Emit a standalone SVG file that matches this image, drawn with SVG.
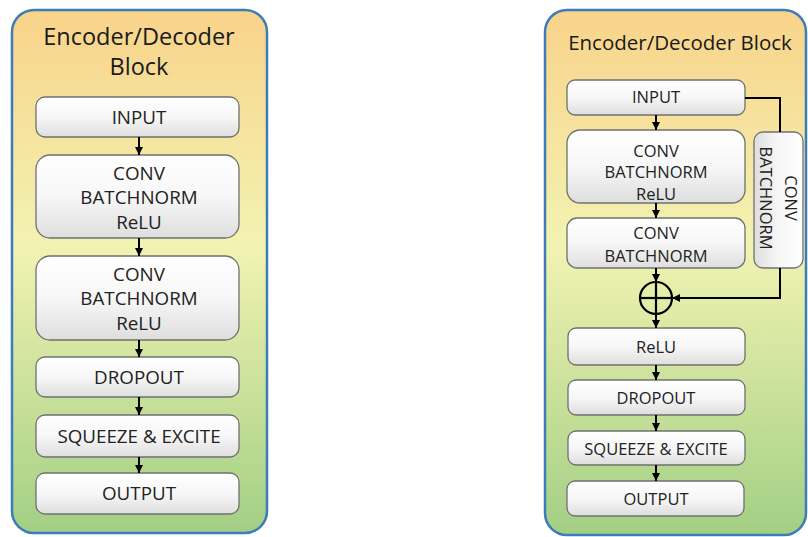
<svg xmlns="http://www.w3.org/2000/svg" width="808" height="537" viewBox="0 0 808 537">
  <defs>
    <linearGradient id="panelFill" x1="0" y1="0" x2="0" y2="1">
      <stop offset="0" stop-color="#f9d38a"/>
      <stop offset="0.45" stop-color="#f2f3b2"/>
      <stop offset="1" stop-color="#a2cf84"/>
    </linearGradient>
    <linearGradient id="boxFill" x1="0" y1="0" x2="0" y2="1">
      <stop offset="0" stop-color="#ffffff"/>
      <stop offset="0.5" stop-color="#f7f7f7"/>
      <stop offset="1" stop-color="#dedede"/>
    </linearGradient>
    <linearGradient id="sideFill" x1="1" y1="0" x2="0" y2="0">
      <stop offset="0" stop-color="#ffffff"/>
      <stop offset="0.5" stop-color="#f7f7f7"/>
      <stop offset="1" stop-color="#dedede"/>
    </linearGradient>
    <marker id="arrow" viewBox="0 0 10 10" refX="10" refY="5" markerWidth="8" markerHeight="8" markerUnits="userSpaceOnUse" orient="auto">
      <path d="M0,0 L10,5 L0,10 z" fill="#000"/>
    </marker>
  </defs>
  <style>
    .panel { fill: url(#panelFill); stroke: #3d7cba; stroke-width: 2.5; }
    .box { fill: url(#boxFill); stroke: #707070; stroke-width: 1.3; }
    .side { fill: url(#sideFill); stroke: #707070; stroke-width: 1.3; }
    .title { font-family: "Open Sans", "Noto Sans", sans-serif; fill: #1a1a1a; text-anchor: middle; }
    .lbl { font-family: "Open Sans", "Noto Sans", sans-serif; fill: #222; text-anchor: middle; }
    .l { font-size: 18.8px; }
    .r { font-size: 16.5px; }
    .wire { fill: none; stroke: #000; stroke-width: 2; }
  </style>

  <!-- Left: plain encoder/decoder block -->
  <g id="left-panel">
    <rect class="panel" x="12" y="10" width="255" height="523" rx="22"/>
    <text class="title" x="139" y="45" font-size="23.5">Encoder/Decoder</text>
    <text class="title" x="139" y="75" font-size="23.5">Block</text>
  </g>
  <g id="l-input">
    <rect class="box" x="36" y="97" width="203" height="40" rx="9"/>
    <text class="lbl l" x="139" y="124">INPUT</text>
  </g>
  <g id="l-conv1">
    <rect class="box" x="36" y="155" width="203" height="83" rx="14"/>
    <text class="lbl l" x="139" y="179.5">CONV</text>
    <text class="lbl l" x="139" y="204">BATCHNORM</text>
    <text class="lbl l" x="139" y="228.5">ReLU</text>
  </g>
  <g id="l-conv2">
    <rect class="box" x="36" y="256" width="203" height="84" rx="14"/>
    <text class="lbl l" x="139" y="280.5">CONV</text>
    <text class="lbl l" x="139" y="305">BATCHNORM</text>
    <text class="lbl l" x="139" y="329.5">ReLU</text>
  </g>
  <g id="l-dropout">
    <rect class="box" x="36" y="357" width="203" height="40" rx="9"/>
    <text class="lbl l" x="139" y="384">DROPOUT</text>
  </g>
  <g id="l-se">
    <rect class="box" x="36" y="415" width="203" height="42" rx="9"/>
    <text class="lbl l" x="139" y="443">SQUEEZE &amp; EXCITE</text>
  </g>
  <g id="l-output">
    <rect class="box" x="36" y="473" width="203" height="41" rx="9"/>
    <text class="lbl l" x="139" y="500">OUTPUT</text>
  </g>

  <!-- Right: residual encoder/decoder block -->
  <g id="right-panel">
    <rect class="panel" x="545" y="10" width="261" height="525" rx="22"/>
    <text class="title" x="680" y="50" font-size="20.5">Encoder/Decoder Block</text>
  </g>
  <g id="r-input">
    <rect class="box" x="567" y="80" width="178" height="35" rx="8"/>
    <text class="lbl r" x="656" y="103">INPUT</text>
  </g>
  <g id="r-conv1">
    <rect class="box" x="567" y="130" width="178" height="73" rx="13"/>
    <text class="lbl r" x="656" y="157">CONV</text>
    <text class="lbl r" x="656" y="178">BATCHNORM</text>
    <text class="lbl r" x="656" y="200">ReLU</text>
  </g>
  <g id="r-conv2">
    <rect class="box" x="567" y="218" width="178" height="50" rx="10"/>
    <text class="lbl r" x="656" y="239">CONV</text>
    <text class="lbl r" x="656" y="262">BATCHNORM</text>
  </g>
  <g id="r-shortcut">
    <rect class="side" x="754" y="132" width="49" height="136" rx="9"/>
    <g transform="translate(778.5,198) rotate(90)">
      <text class="lbl r" x="0" y="-6.5">CONV</text>
      <text class="lbl r" x="0" y="18.5">BATCHNORM</text>
    </g>
  </g>
  <g id="r-sum">
    <circle cx="656" cy="298" r="16" fill="none" stroke="#000" stroke-width="2.2"/>
    <line x1="640" y1="298" x2="672" y2="298" stroke="#000" stroke-width="2.2"/>
    <line x1="656" y1="282" x2="656" y2="314" stroke="#000" stroke-width="2.2"/>
  </g>
  <g id="r-relu">
    <rect class="box" x="568" y="328" width="177" height="37" rx="8"/>
    <text class="lbl r" x="656" y="353">ReLU</text>
  </g>
  <g id="r-dropout">
    <rect class="box" x="568" y="380" width="177" height="35" rx="8"/>
    <text class="lbl r" x="656" y="404">DROPOUT</text>
  </g>
  <g id="r-se">
    <rect class="box" x="568" y="431" width="177" height="34" rx="8"/>
    <text class="lbl r" x="656" y="455">SQUEEZE &amp; EXCITE</text>
  </g>
  <g id="r-output">
    <rect class="box" x="567" y="481" width="177" height="35" rx="8"/>
    <text class="lbl r" x="656" y="505">OUTPUT</text>
  </g>

  <!-- Connectors -->
  <g id="connectors">
    <path class="wire" d="M139,137 V155" marker-end="url(#arrow)"/>
    <path class="wire" d="M139,238 V256" marker-end="url(#arrow)"/>
    <path class="wire" d="M139,340 V357" marker-end="url(#arrow)"/>
    <path class="wire" d="M139,397 V415" marker-end="url(#arrow)"/>
    <path class="wire" d="M139,457 V473" marker-end="url(#arrow)"/>

    <path class="wire" d="M656,115 V130" marker-end="url(#arrow)"/>
    <path class="wire" d="M656,203 V218" marker-end="url(#arrow)"/>
    <path class="wire" d="M656,268 V282" marker-end="url(#arrow)"/>
    <path class="wire" d="M656,314 V328" marker-end="url(#arrow)"/>
    <path class="wire" d="M656,365 V380" marker-end="url(#arrow)"/>
    <path class="wire" d="M656,415 V431" marker-end="url(#arrow)"/>
    <path class="wire" d="M656,465 V481" marker-end="url(#arrow)"/>
    <path class="wire" d="M745,98 H780 V132"/>
    <path class="wire" d="M780,268 V298 H672" marker-end="url(#arrow)"/>
  </g>
</svg>
